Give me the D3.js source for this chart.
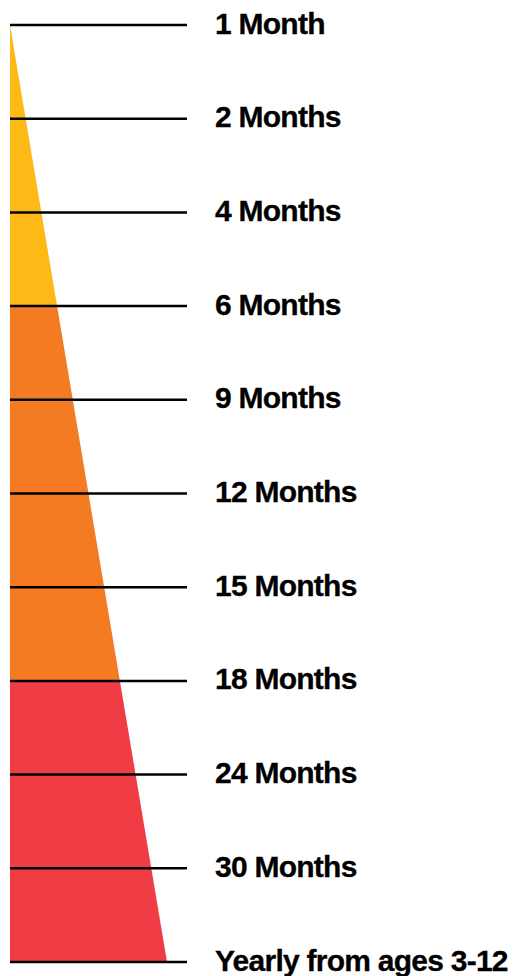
<!DOCTYPE html>
<html>
<head>
<meta charset="utf-8">
<script src="https://cdn.jsdelivr.net/npm/d3@7"></script>
<style>
  html, body { margin: 0; padding: 0; background: #fff; }
  svg { display: block; }
  text { font-family: "Liberation Sans", Arial, Helvetica, sans-serif; font-weight: bold; }
</style>
</head>
<body>
<script>
// Checkup schedule stages (top to bottom)
const labels = ["1 Month", "2 Months", "4 Months", "6 Months", "9 Months", "12 Months",
                "15 Months", "18 Months", "24 Months", "30 Months", "Yearly from ages 3-12"];
// Colour bands of the wedge: start label, end label, colour
const bandStarts = ["1 Month", "6 Months", "18 Months"];
const bandEnds   = ["6 Months", "18 Months", "Yearly from ages 3-12"];
const bandColors = ["#FDB916", "#F47B22", "#EF3C45"];

const W = 514, H = 976;
const svg = d3.select("body").append("svg").attr("width", W).attr("height", H);

const y = d3.scalePoint().domain(labels).range([25, 962]);
const idx = d3.scaleOrdinal().domain(labels).range(d3.range(labels.length));
const x0 = 10;
const wedge = d3.scaleLinear().domain([0, labels.length - 1]).range([0, 157]);

const area = d3.area()
  .y(d => y(d))
  .x0(() => x0)
  .x1(d => x0 + wedge(idx(d)));

bandStarts.forEach((s, i) => {
  const a = idx(s), b = idx(bandEnds[i]);
  const pts = labels.slice(a, b + 1);
  svg.append("path")
    .attr("d", area(pts))
    .attr("fill", bandColors[i]);
});

const g = svg.append("g");
g.selectAll("line").data(labels).join("line")
  .attr("x1", x0).attr("x2", 187)
  .attr("y1", d => y(d)).attr("y2", d => y(d))
  .attr("stroke", "#000").attr("stroke-width", 2.5);

g.selectAll("text").data(labels).join("text")
  .attr("x", 215)
  .attr("y", d => y(d) + 8.5)
  .attr("font-size", 30)
  .attr("letter-spacing", "-0.75px")
  .attr("stroke", "#000").attr("stroke-width", 0.3)
  .attr("fill", "#000")
  .text(d => d);
</script>
</body>
</html>
